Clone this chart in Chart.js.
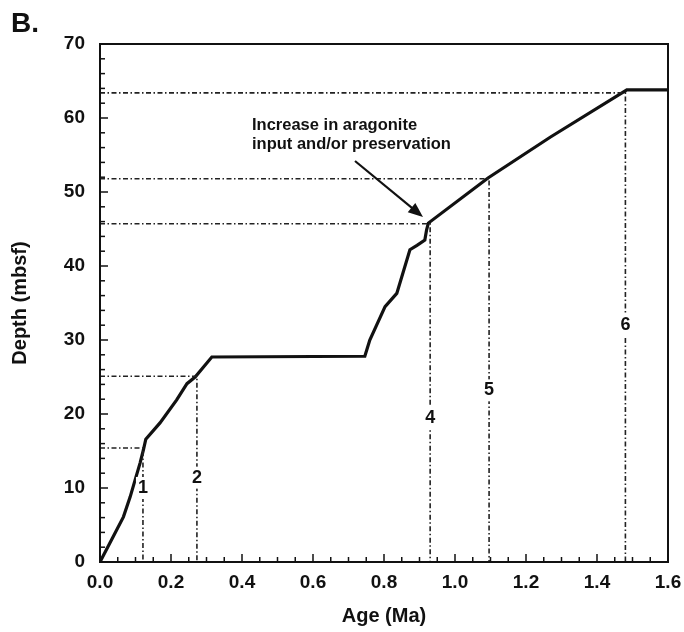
<!DOCTYPE html>
<html>
<head>
<meta charset="utf-8">
<script src="https://cdn.jsdelivr.net/npm/chart.js@4"></script>
<style>
  html, body { margin: 0; padding: 0; background: #fff; }
  #wrap { width: 684px; height: 632px; position: relative; }
</style>
</head>
<body>
<div id="wrap"><canvas id="ageChart"></canvas></div>
<script>
// age-depth curve
const ages =   [0, 0.037, 0.066, 0.085, 0.099, 0.113, 0.122, 0.129, 0.169, 0.216, 0.245, 0.268, 0.315, 0.746, 0.76, 0.803, 0.836, 0.873, 0.893, 0.915, 0.92, 0.925, 1.093, 1.268, 1.484, 1.6];
const depths = [0, 3.4, 6.1, 8.8, 11.1, 13.4, 15.1, 16.6, 18.8, 21.9, 24.1, 25.0, 27.7, 27.8, 30.0, 34.5, 36.3, 42.2, 42.8, 43.5, 44.9, 45.8, 51.9, 57.4, 63.8, 63.8];

// datum markers (dash-dot guides)
const markerNames = ['1', '2', '4', '5', '6'];
const markerAges = [0.121, 0.273, 0.93, 1.096, 1.48];
const markerDepths = [15.4, 25.1, 45.7, 51.8, 63.4];
const markerLabelDepths = [10.0, 11.4, 19.5, 23.2, 32.0];

const xTicks = [0, 0.2, 0.4, 0.6, 0.8, 1.0, 1.2, 1.4, 1.6];
const yTicks = [0, 10, 20, 30, 40, 50, 60, 70];

const FONT = '"Liberation Sans", Arial, sans-serif';

const datasets = [];
markerAges.forEach(function (a, i) {
  datasets.push({
    data: [{ x: 0, y: markerDepths[i] }, { x: a, y: markerDepths[i] }, { x: a, y: 0 }],
    borderColor: '#222',
    borderWidth: 1.6,
    borderDash: [5, 2.5, 1.5, 2.5],
    pointRadius: 0,
    fill: false,
    tension: 0
  });
});
datasets.push({
  data: ages.map((a, i) => ({ x: a, y: depths[i] })),
  borderColor: '#111',
  borderWidth: 3.2,
  pointRadius: 0,
  fill: false,
  tension: 0
});

// box, inward ticks, labels, note
const decor = {
  id: 'decor',
  afterDatasetsDraw(chart) {
    const c = chart.ctx, a = chart.chartArea;
    const xs = chart.scales.x, ys = chart.scales.y;
    c.save();
    c.strokeStyle = '#111';
    c.lineWidth = 2;
    c.strokeRect(a.left, a.top, a.right - a.left, a.bottom - a.top);

    c.lineWidth = 1.5;
    for (let v = 0; v <= 1.6001; v += 0.05) {
      const px = xs.getPixelForValue(v);
      const major = Math.abs(v / 0.2 - Math.round(v / 0.2)) < 0.01;
      c.beginPath();
      c.moveTo(px, a.bottom);
      c.lineTo(px, a.bottom - (major ? 8 : 5));
      c.stroke();
    }
    for (let v = 0; v <= 70.001; v += 2) {
      const py = ys.getPixelForValue(v);
      const major = v % 10 === 0;
      c.beginPath();
      c.moveTo(a.left, py);
      c.lineTo(a.left + (major ? 8 : 5), py);
      c.stroke();
    }

    c.font = 'bold 18px ' + FONT;
    c.textAlign = 'center';
    c.textBaseline = 'middle';
    markerNames.forEach(function (n, i) {
      const px = xs.getPixelForValue(markerAges[i]);
      const py = ys.getPixelForValue(markerLabelDepths[i]);
      c.fillStyle = '#fff';
      c.fillRect(px - 7, py - 11, 14, 22);
      c.fillStyle = '#111';
      c.fillText(n, px, py);
    });

    c.font = 'bold 16.5px ' + FONT;
    c.textAlign = 'left';
    c.fillText('Increase in aragonite', 252, 125);
    c.fillText('input and/or preservation', 252, 144);

    const x0 = 355, y0 = 161, x1 = 423, y1 = 217;
    const ang = Math.atan2(y1 - y0, x1 - x0);
    c.lineWidth = 2.2;
    c.beginPath();
    c.moveTo(x0, y0);
    c.lineTo(x1 - 10 * Math.cos(ang), y1 - 10 * Math.sin(ang));
    c.stroke();
    c.beginPath();
    c.moveTo(x1, y1);
    c.lineTo(x1 - 16 * Math.cos(ang - 0.38), y1 - 16 * Math.sin(ang - 0.38));
    c.lineTo(x1 - 16 * Math.cos(ang + 0.38), y1 - 16 * Math.sin(ang + 0.38));
    c.closePath();
    c.fill();

    c.font = 'bold 28px ' + FONT;
    c.textBaseline = 'alphabetic';
    c.fillText('B.', 11, 32);
    c.restore();
  }
};

new Chart(document.getElementById('ageChart'), {
  type: 'line',
  data: { datasets: datasets },
  plugins: [decor],
  options: {
    responsive: true,
    maintainAspectRatio: false,
    animation: false,
    layout: { padding: { top: 44, right: 16, left: 0, bottom: 0 } },
    plugins: { legend: { display: false }, tooltip: { enabled: false } },
    scales: {
      x: {
        type: 'linear',
        min: 0, max: 1.6,
        grid: { display: false },
        border: { display: false },
        afterBuildTicks: s => { s.ticks = xTicks.map(v => ({ value: v })); },
        afterFit: s => { s.height = 70; },
        ticks: {
          color: '#111',
          padding: 1,
          font: { family: FONT, size: 19, weight: 'bold' },
          maxRotation: 0,
          callback: v => v.toFixed(1)
        },
        title: {
          display: true,
          text: 'Age (Ma)',
          color: '#111',
          padding: { top: 16 },
          font: { family: FONT, size: 20, weight: 'bold' }
        }
      },
      y: {
        min: 0, max: 70,
        grid: { display: false },
        border: { display: false },
        afterBuildTicks: s => { s.ticks = yTicks.map(v => ({ value: v })); },
        afterFit: s => { s.width = 100; },
        ticks: {
          color: '#111',
          padding: 7,
          font: { family: FONT, size: 19, weight: 'bold' }
        },
        title: {
          display: true,
          text: 'Depth (mbsf)',
          color: '#111',
          padding: { top: 8 },
          font: { family: FONT, size: 20, weight: 'bold' }
        }
      }
    }
  }
});
</script>
</body>
</html>
